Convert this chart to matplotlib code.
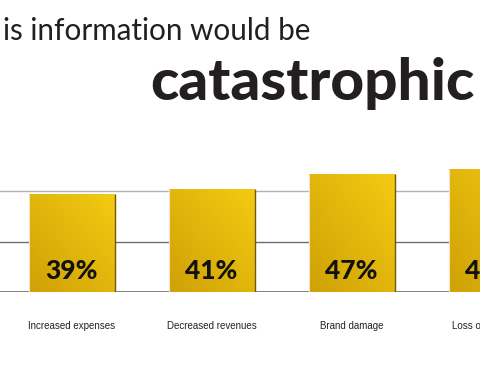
import numpy as np
import matplotlib.pyplot as plt
from matplotlib.colors import to_rgb

# data
categories = ["Increased expenses", "Decreased revenues", "Brand damage", "Loss of customers"]
values = [39, 41, 47, 49]
gridlines = [20, 40]

fig = plt.figure(figsize=(4.8, 3.72), dpi=100)
ax = fig.add_axes([0, 80 / 372, 1, 142 / 372])
ax.axis('off')

# grid
ax.axhline(0, color='#6e6e6e', lw=1.2, zorder=1)
ax.axhline(gridlines[0], color='#6e6e6e', lw=1.0, zorder=1)
ax.axhline(gridlines[1], color='#b4b4b4', lw=1.0, zorder=1)

width = 86 / 140
dark = np.array(to_rgb('#cfa106'))
light = np.array(to_rgb('#f4cb12'))
gx, gy = np.meshgrid(np.linspace(0, 1, 60), np.linspace(1, 0, 60))
t = np.clip((gx + gy) / 2, 0, 1)[..., None]
grad = dark * (1 - t) + light * t

x = np.arange(len(values))
bars = ax.bar(x, values, width=width, color='none', edgecolor='none', zorder=2)
for b, v, xi, cat in zip(bars, values, x, categories):
    im = ax.imshow(grad, extent=(xi - width / 2, xi + width / 2, 0, v),
                   aspect='auto', zorder=2, interpolation='bilinear')
    im.set_clip_path(b)
    ax.vlines(xi + width / 2, 0, v, color='#6f5a08', lw=1.0, zorder=3)
    ax.vlines(xi - width / 2, 0, v, color='#efe6c8', lw=0.8, zorder=3)
    ax.text(xi, 8.3, f"{v}%", ha='center', va='center', fontsize=19,
            fontweight='black', family='Lato', color='#111111', zorder=4)
    ax.text(xi, -34 / 2.52, cat, ha='center', va='center',
            fontsize=7, family='Liberation Sans',
            color='#222222', clip_on=False)

ax.set_xlim(-71.5 / 140, (480 - 71.5) / 140)
ax.set_ylim(0, 142 / 2.52)

fig.text(3 / 480, 1 - 40 / 372, "is information would be", ha='left', va='baseline',
         fontsize=21.3, family='Lato', fontweight='normal', color='#231f20')
fig.text(475 / 480, 1 - 100 / 372, "catastrophic", ha='right', va='baseline',
         fontsize=42, family='Lato', fontweight='black', color='#231f20')

fig.savefig('out.png', dpi=100)
